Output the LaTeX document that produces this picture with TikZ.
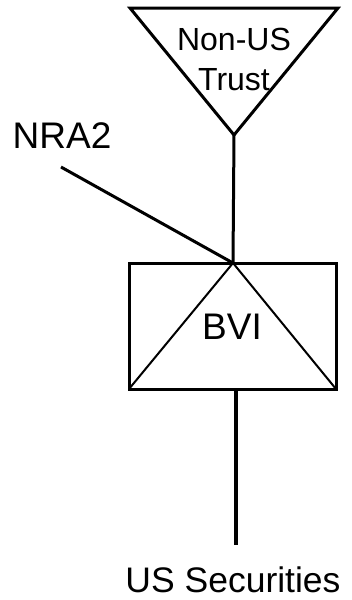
\documentclass[tikz,border=0pt]{standalone}
\usepackage{fontspec}
\setmainfont{Liberation Sans}
\begin{document}
\begin{tikzpicture}[x=1pt,y=-1pt,
  edge/.style={line width=3pt},
  thin edge/.style={line width=2pt},
  lbl/.style={inner sep=0pt,font=\fontsize{37}{40}\selectfont},
  small lbl/.style={inner sep=0pt,align=center,font=\fontsize{32}{40}\selectfont}]
\useasboundingbox (0,0) rectangle (351,600);
% trust triangle
\coordinate (tl) at (130,8);
\coordinate (tr) at (338,8);
\coordinate (tb) at (234,135);
\draw[edge,line join=miter] (tl) -- (tr) -- (tb) -- cycle;
\node[small lbl] (trust) at (234,59) {Non-US\\Trust};
% BVI box
\coordinate (bl) at (129,389);
\coordinate (br) at (336,389);
\coordinate (btop) at (233,263);
\draw[edge] (129,263) rectangle (336,389);
\draw[thin edge] (bl) -- (btop) -- (br);
\node[lbl] (bvi) at (232,327) {BVI};
% connectors
\draw[edge] (tb) -- (btop);
\node[lbl] (nra) at (62,136) {NRA2};
\coordinate (nraend) at (61,167);
\draw[edge] (nraend) -- (btop);
\coordinate (bbot) at (236,389);
\coordinate (usend) at (236,545);
\draw[line width=4pt] (bbot) -- (usend);
\node[inner sep=0pt,font=\fontsize{35.5}{40}\selectfont] (us) at (233,580) {US Securities};
\end{tikzpicture}
\end{document}
